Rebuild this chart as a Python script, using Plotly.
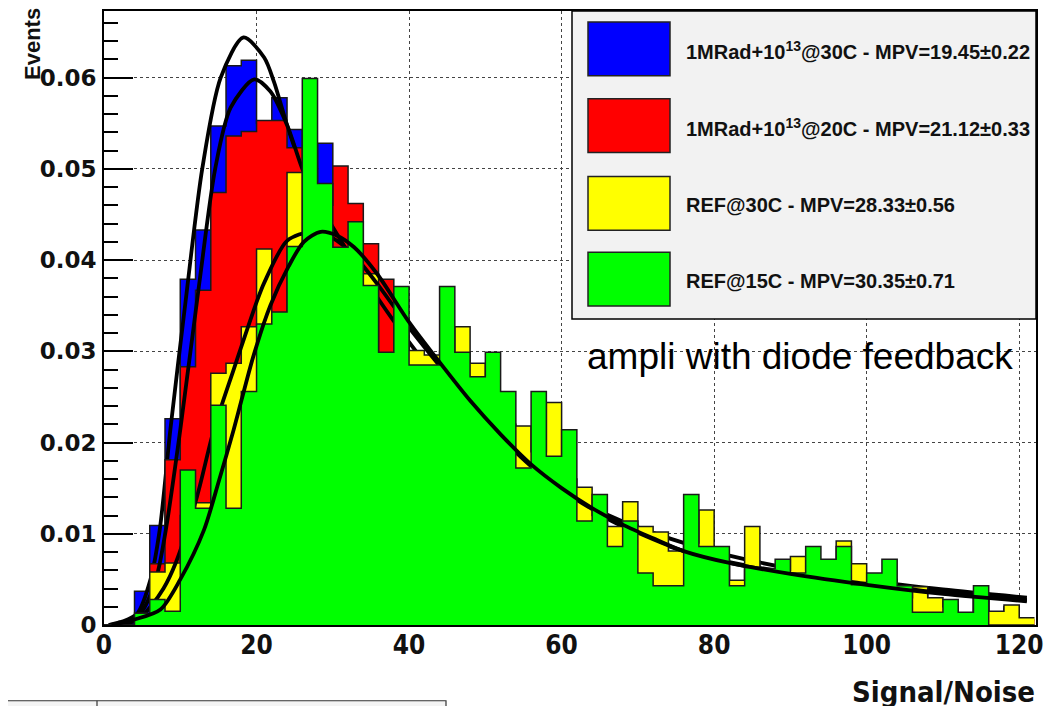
import plotly.graph_objects as go

# ---------------- data ----------------
bin_edges = list(range(0, 124, 2))  # 61 bins of width 2, from 0 to 122

blue_vals = [
    0.0, 0.0004, 0.0037, 0.0109, 0.0226, 0.0379, 0.0433, 0.0547, 0.0613, 0.0619,
    0.0550, 0.0578, 0.0543, 0.0500, 0.0528, 0.0450, 0.0400, 0.0360, 0.0330, 0.0300,
    0.0280, 0.0260, 0.0250, 0.0220, 0.0210, 0.0190, 0.0180, 0.0160, 0.0150, 0.0140,
    0.0130, 0.0110, 0.0110, 0.0090, 0.0100, 0.0090, 0.0080, 0.0070, 0.0080, 0.0070,
    0.0070, 0.0040, 0.0060, 0.0050, 0.0050, 0.0050, 0.0050, 0.0050, 0.0040, 0.0040,
    0.0040, 0.0040, 0.0030, 0.0030, 0.0020, 0.0020, 0.0010, 0.0030, 0.0010, 0.0020,
    0.0005]

red_vals = [
    0.0, 0.0, 0.0008, 0.0067, 0.0181, 0.0283, 0.0367, 0.0474, 0.0536, 0.0541,
    0.0553, 0.0553, 0.0523, 0.0500, 0.0460, 0.0503, 0.0462, 0.0418, 0.0379, 0.0310,
    0.0290, 0.0270, 0.0260, 0.0240, 0.0220, 0.0200, 0.0190, 0.0170, 0.0160, 0.0150,
    0.0140, 0.0120, 0.0120, 0.0100, 0.0110, 0.0090, 0.0090, 0.0075, 0.0090, 0.0080,
    0.0075, 0.0045, 0.0070, 0.0055, 0.0060, 0.0060, 0.0060, 0.0055, 0.0050, 0.0045,
    0.0045, 0.0050, 0.0035, 0.0035, 0.0025, 0.0022, 0.0012, 0.0035, 0.0012, 0.0018,
    0.0006]

yellow_vals = [
    0.0, 0.0, 0.0010, 0.0058, 0.0068, 0.0120, 0.0134, 0.0276, 0.0287, 0.0327,
    0.0412, 0.0300, 0.0496, 0.0400, 0.0430, 0.0380, 0.0360, 0.0385, 0.0280, 0.0330,
    0.0301, 0.0296, 0.0300, 0.0327, 0.0287, 0.0240, 0.0220, 0.0218, 0.0190, 0.0244,
    0.0160, 0.0151, 0.0120, 0.0108, 0.0135, 0.0108, 0.0102, 0.0081, 0.0090, 0.0126,
    0.0070, 0.0049, 0.0108, 0.0050, 0.0060, 0.0075, 0.0060, 0.0050, 0.0092, 0.0067,
    0.0040, 0.0050, 0.0030, 0.0042, 0.0030, 0.0020, 0.0010, 0.0030, 0.0015, 0.0022,
    0.0008]

green_vals = [
    0.0, 0.0, 0.0013, 0.0028, 0.0015, 0.0170, 0.0128, 0.0241, 0.0128, 0.0256,
    0.0330, 0.0343, 0.0415, 0.0599, 0.0484, 0.0414, 0.0442, 0.0372, 0.0299, 0.0371,
    0.0285, 0.0285, 0.0371, 0.0299, 0.0272, 0.0299, 0.0256, 0.0172, 0.0256, 0.0185,
    0.0214, 0.0114, 0.0143, 0.0086, 0.0114, 0.0057, 0.0043, 0.0043, 0.0143, 0.0086,
    0.0086, 0.0043, 0.0063, 0.0062, 0.0072, 0.0057, 0.0086, 0.0072, 0.0086, 0.0044,
    0.0057, 0.0072, 0.0043, 0.0014, 0.0014, 0.0028, 0.0014, 0.0043, 0.0, 0.0,
    0.0]

# fitted curves, points
blue_fit_x = [0.6, 2.5, 4.4, 6.1, 7.3, 8.7, 10.7, 12.9, 15.3, 18.3, 21.0, 22.3, 24.0, 26.0,
              28.0, 30.0, 34.0, 38.0, 42.0, 46.0, 50.0, 54.0, 58.0, 62.0, 66.0, 70.0,
              76.0, 82.0, 90.0, 100.0, 110.0, 121.0]
blue_fit_y = [0.0, 0.0004, 0.0013, 0.0050, 0.0104, 0.0214, 0.0355, 0.0501, 0.0600, 0.0644,
              0.0622, 0.0595, 0.0548, 0.0500, 0.0460, 0.0420, 0.0362, 0.0316, 0.0276,
              0.0240, 0.0209, 0.0182, 0.0158, 0.0138, 0.0121, 0.0107, 0.0090, 0.0076,
              0.0062, 0.0049, 0.0039, 0.0030]

red_fit_x = [0.8, 2.8, 4.8, 6.8, 8.1, 10.0, 12.5, 14.6, 16.6, 19.7, 21.8, 24.0, 26.0, 28.0,
             30.0, 33.0, 36.0, 38.0, 41.0, 44.0, 48.0, 52.0, 56.0, 60.0, 64.0, 68.0,
             72.0, 76.0, 82.0, 90.0, 100.0, 110.0, 121.0]
red_fit_y = [0.0, 0.0003, 0.0013, 0.0050, 0.0104, 0.0214, 0.0375, 0.0501, 0.0567, 0.0598,
             0.0585, 0.0548, 0.0500, 0.0462, 0.0436, 0.0395, 0.0357, 0.0333, 0.0299,
             0.0270, 0.0234, 0.0201, 0.0171, 0.0146, 0.0125, 0.0108, 0.0093, 0.0081,
             0.0069, 0.0057, 0.0046, 0.0036, 0.0028]

yellow_fit_x = [2.0, 4.5, 6.1, 7.8, 9.4, 12.2, 14.4, 17.0, 20.1, 21.0, 24.0, 27.2, 30.0,
                33.0, 36.0, 40.0, 44.0, 48.0, 52.0, 56.0, 60.0, 64.0, 68.0, 72.0, 76.0,
                82.0, 90.0, 100.0, 110.0, 121.0]
yellow_fit_y = [0.0, 0.0006, 0.0020, 0.0040, 0.0068, 0.0141, 0.0214, 0.0280, 0.0356,
                0.0375, 0.0421, 0.0431, 0.0424, 0.0403, 0.0372, 0.0326, 0.0284, 0.0243,
                0.0206, 0.0174, 0.0148, 0.0127, 0.0109, 0.0094, 0.0081, 0.0068, 0.0056,
                0.0045, 0.0035, 0.0027]

green_fit_x = [1.0, 4.0, 7.4, 10.0, 13.1, 15.1, 17.0, 19.6, 21.8, 24.2, 26.2, 28.4, 30.5,
               32.8, 35.8, 40.0, 44.0, 48.0, 52.0, 56.0, 60.0, 64.0, 68.0, 72.0, 76.0,
               82.0, 90.0, 100.0, 110.0, 121.0]
green_fit_y = [0.0, 0.0006, 0.0017, 0.0050, 0.0104, 0.0159, 0.0214, 0.0295, 0.0350,
               0.0393, 0.0420, 0.0431, 0.0427, 0.0414, 0.0385, 0.0332, 0.0288, 0.0246,
               0.0209, 0.0176, 0.0150, 0.0128, 0.0110, 0.0095, 0.0081, 0.0068, 0.0056,
               0.0044, 0.0034, 0.0026]

series_labels = [
    "1MRad+10<sup>13</sup>@30C - MPV=19.45±0.22",
    "1MRad+10<sup>13</sup>@20C - MPV=21.12±0.33",
    "REF@30C - MPV=28.33±0.56",
    "REF@15C - MPV=30.35±0.71",
]
series_colors = ["#0000ff", "#ff0000", "#ffff00", "#00ff00"]

x_tick_vals = [0, 20, 40, 60, 80, 100, 120]
y_tick_vals = [0, 0.01, 0.02, 0.03, 0.04, 0.05, 0.06]
y_tick_text = ["0", "0.01", "0.02", "0.03", "0.04", "0.05", "0.06"]

# ---------------- layout geometry ----------------
# The page body adds an 8 px offset, so the figure margins are shifted
# to put the plot frame at window pixels x 104..1036, y 9..625.
OFF = 8
W, H = 1057, 706
PLOT_L, PLOT_R, PLOT_T, PLOT_B = 104, 1036, 9, 625
ML = PLOT_L - OFF
MT = PLOT_T - OFF
MR = W - (PLOT_R - OFF)
MB = H - (PLOT_B - OFF)
PW = PLOT_R - PLOT_L
PH = PLOT_B - PLOT_T


def pxx(wx):
    return (wx - PLOT_L) / PW


def pxy(wy):
    return (PLOT_B - wy) / PH


fig = go.Figure()

hists = [blue_vals, red_vals, yellow_vals, green_vals]
fits = [(blue_fit_x, blue_fit_y), (red_fit_x, red_fit_y),
        (yellow_fit_x, yellow_fit_y), (green_fit_x, green_fit_y)]

for vals, (fx, fy), col, lab in zip(hists, fits, series_colors, series_labels):
    fig.add_trace(go.Scatter(
        x=bin_edges, y=vals + [vals[-1]], mode="lines",
        line=dict(shape="hv", color="#1a1a1a", width=1.5),
        fill="tozeroy", fillcolor=col, name=lab, showlegend=False,
        hoverinfo="skip"))
    fig.add_trace(go.Scatter(
        x=fx, y=fy, mode="lines",
        line=dict(shape="spline", smoothing=0.8, color="black", width=3.8),
        showlegend=False, hoverinfo="skip"))

shapes = []
annotations = []

# legend box
shapes.append(dict(type="rect", xref="paper", yref="paper",
                   x0=pxx(572), x1=pxx(1036), y0=pxy(318), y1=pxy(9),
                   fillcolor="#f2f2f2", line=dict(color="black", width=1.5),
                   layer="above"))
row_tops = [20, 97, 175, 251]
for i, (col, lab) in enumerate(zip(series_colors, series_labels)):
    top = row_tops[i]
    shapes.append(dict(type="rect", xref="paper", yref="paper",
                       x0=pxx(588), x1=pxx(670), y0=pxy(top + 54), y1=pxy(top),
                       fillcolor=col, line=dict(color="#222", width=1.5),
                       layer="above"))
    annotations.append(dict(xref="paper", yref="paper", x=pxx(684), y=pxy(top + 29),
                            xanchor="left", yanchor="middle", showarrow=False,
                            text="<b>" + lab + "</b>",
                            font=dict(family="Liberation Sans, Arial", size=20,
                                      color="#111")))

annotations.append(dict(xref="paper", yref="paper", x=pxx(585), y=pxy(356),
                        xanchor="left", yanchor="middle", showarrow=False,
                        text="ampli with diode feedback",
                        font=dict(family="Liberation Sans, Arial", size=37,
                                  color="black")))

annotations.append(dict(xref="paper", yref="paper", x=pxx(32), y=pxy(4),
                        xanchor="center", yanchor="top", showarrow=False,
                        text="Events", textangle=-90,
                        font=dict(family="Liberation Sans, Arial", size=22,
                                  color="#111", weight="bold")))

annotations.append(dict(xref="paper", yref="paper", x=pxx(1037), y=pxy(673),
                        xanchor="right", yanchor="top", showarrow=False,
                        text="Signal/Noise",
                        font=dict(family="Liberation Sans Narrow, DejaVu Sans Condensed, Liberation Sans",
                                  size=29, color="#111", weight="bold")))

# partial box at the lower-left edge of the canvas
shapes.append(dict(type="rect", xref="paper", yref="paper",
                   x0=pxx(0), x1=pxx(446), y0=pxy(712), y1=pxy(701),
                   fillcolor="#f4f4f4", line=dict(color="#333", width=1.2),
                   layer="above"))
shapes.append(dict(type="line", xref="paper", yref="paper",
                   x0=pxx(97), x1=pxx(97), y0=pxy(701), y1=pxy(712),
                   line=dict(color="#333", width=1.2)))

fig.update_layout(
    width=W, height=H,
    margin=dict(l=ML, r=MR, t=MT, b=MB, pad=0),
    paper_bgcolor="white", plot_bgcolor="white",
    showlegend=False,
    shapes=shapes, annotations=annotations,
    xaxis=dict(range=[0, 122.2], tickvals=x_tick_vals, ticks="",
               showgrid=True, gridcolor="#444", gridwidth=1.3, griddash="dot",
               zeroline=False, showline=True, linecolor="black", linewidth=2,
               mirror=True, ticklabelstandoff=-4,
               tickfont=dict(family="Liberation Sans Narrow, DejaVu Sans Condensed, Liberation Sans",
                             size=26, color="#111", weight="bold")),
    yaxis=dict(range=[0, 0.0673], tickvals=y_tick_vals, ticktext=y_tick_text,
               ticks="inside", ticklen=29, tickwidth=1.5, tickcolor="black",
               minor=dict(dtick=0.002, tick0=0, ticks="inside", ticklen=14,
                          tickwidth=1.5, tickcolor="black", showgrid=False),
               showgrid=True, gridcolor="#444", gridwidth=1.3, griddash="dot",
               zeroline=False, showline=True, linecolor="black", linewidth=2,
               mirror=True, ticklabelstandoff=1,
               tickfont=dict(family="DejaVu Sans", size=23, color="#111",
                             weight="bold")),
)

fig.write_html("out.html")
